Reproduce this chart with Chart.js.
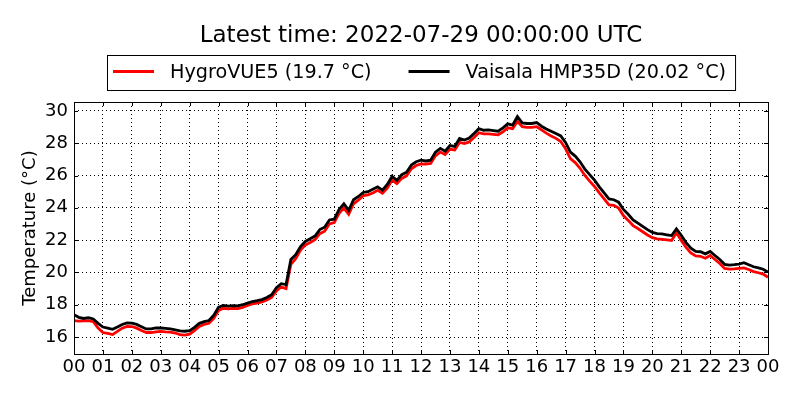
<!doctype html>
<html lang="en">
<head>
<meta charset="utf-8">
<title>Temperature, last 24 h</title>
<script src="https://cdn.jsdelivr.net/npm/chart.js@4.4.1/dist/chart.umd.min.js"></script>
<style>
  html, body { margin: 0; padding: 0; background: #fff; }
  canvas { display: block; }
</style>
</head>
<body>
<canvas id="temps" width="800" height="400"></canvas>
<script>
// chart text
const titleText = 'Latest time: 2022-07-29 00:00:00 UTC';
const yTitle = 'Temperature (°C)';
const seriesNames = ['HygroVUE5 (19.7 °C)', 'Vaisala HMP35D (20.02 °C)'];
const seriesColors = ['#ff0000', '#000000'];

// axis ticks
const hourLabels = ['00','01','02','03','04','05','06','07','08','09','10','11',
                    '12','13','14','15','16','17','18','19','20','21','22','23','00'];
const yTicks = [16, 18, 20, 22, 24, 26, 28, 30];

// one reading every 10 minutes, 00:00 to 24:00
const stepMinutes = 10;

const hygroVue = [
  17.02,16.98,17.00,17.02,16.95,16.55,16.28,16.22,16.15,16.35,16.55,16.66,
  16.65,16.55,16.40,16.28,16.28,16.32,16.35,16.32,16.30,16.25,16.15,16.12,
  16.18,16.40,16.66,16.78,16.85,17.15,17.65,17.78,17.75,17.78,17.76,17.84,
  17.95,18.05,18.10,18.18,18.30,18.45,18.85,19.10,19.00,20.50,20.85,21.38,
  21.70,21.85,22.02,22.40,22.55,23.00,23.08,23.65,24.00,23.60,24.25,24.48,
  24.75,24.80,24.92,25.08,24.90,25.22,25.72,25.50,25.82,25.98,26.42,26.62,
  26.72,26.70,26.75,27.22,27.45,27.30,27.62,27.58,28.05,27.98,28.08,28.35,
  28.65,28.58,28.58,28.55,28.52,28.70,28.95,28.90,29.35,29.02,28.98,28.98,
  29.02,28.82,28.62,28.45,28.30,28.10,27.65,27.05,26.80,26.45,26.00,25.65,
  25.32,24.92,24.55,24.18,24.15,23.98,23.52,23.22,22.90,22.72,22.52,22.32,
  22.15,22.08,22.05,22.02,21.98,22.45,21.98,21.55,21.20,21.02,21.00,20.88,
  21.05,20.80,20.55,20.25,20.20,20.22,20.25,20.28,20.18,20.05,19.98,19.90,
  19.70
];

const vaisala = [
  17.38,17.22,17.15,17.20,17.12,16.85,16.62,16.55,16.48,16.62,16.78,16.88,
  16.86,16.78,16.64,16.50,16.50,16.56,16.56,16.53,16.50,16.45,16.38,16.36,
  16.40,16.60,16.85,16.95,17.02,17.35,17.85,17.96,17.92,17.95,17.93,18.00,
  18.10,18.20,18.25,18.32,18.45,18.62,19.05,19.30,19.25,20.80,21.10,21.60,
  21.92,22.08,22.25,22.65,22.80,23.25,23.30,23.90,24.25,23.85,24.50,24.70,
  24.95,25.00,25.15,25.30,25.10,25.45,25.95,25.70,26.05,26.20,26.65,26.85,
  26.95,26.90,26.95,27.45,27.68,27.50,27.85,27.80,28.30,28.20,28.32,28.60,
  28.90,28.80,28.82,28.78,28.74,28.95,29.20,29.12,29.65,29.26,29.22,29.22,
  29.28,29.05,28.88,28.74,28.60,28.45,28.05,27.45,27.20,26.85,26.40,26.05,
  25.72,25.30,24.92,24.55,24.50,24.35,23.90,23.60,23.25,23.05,22.85,22.65,
  22.48,22.40,22.38,22.33,22.28,22.70,22.30,21.85,21.50,21.30,21.28,21.15,
  21.30,21.05,20.80,20.50,20.45,20.48,20.52,20.60,20.48,20.35,20.28,20.20,
  20.02
];

const FONT = '"DejaVu Sans", "Liberation Sans", sans-serif';

function toPoints(values) {
  return values.map((v, i) => ({ x: i * stepMinutes / 60, y: v }));
}

// title, boxed legend, axes frame and inward tick marks (matplotlib look)
const decorations = {
  id: 'decorations',
  beforeDraw(chart) {
    const ctx = chart.ctx;
    ctx.save();
    ctx.fillStyle = '#fff';
    ctx.fillRect(0, 0, chart.width, chart.height);
    ctx.restore();
  },
  afterDraw(chart) {
    const ctx = chart.ctx;
    const a = chart.chartArea;
    const xs = chart.scales.x, ys = chart.scales.y;
    const mid = (a.left + a.right) / 2;
    ctx.save();

    // frame
    ctx.strokeStyle = '#000';
    ctx.lineWidth = 1;
    ctx.strokeRect(Math.round(a.left) + 0.5, Math.round(a.top) + 0.5,
                   Math.round(a.right - a.left), Math.round(a.bottom - a.top));

    // inward ticks
    ctx.beginPath();
    for (let h = 0; h < hourLabels.length; h++) {
      const px = Math.round(xs.getPixelForValue(h)) + 0.5;
      ctx.moveTo(px, a.bottom); ctx.lineTo(px, a.bottom - 4);
      ctx.moveTo(px, a.top); ctx.lineTo(px, a.top + 4);
    }
    yTicks.forEach(v => {
      const py = Math.round(ys.getPixelForValue(v)) + 0.5;
      ctx.moveTo(a.left, py); ctx.lineTo(a.left + 4, py);
      ctx.moveTo(a.right, py); ctx.lineTo(a.right - 4, py);
    });
    ctx.stroke();

    // title
    ctx.fillStyle = '#000';
    ctx.font = '23px ' + FONT;
    ctx.textAlign = 'center';
    ctx.textBaseline = 'alphabetic';
    ctx.fillText(titleText, mid, 42);

    // legend
    ctx.font = '19.2px ' + FONT;
    ctx.textAlign = 'left';
    const lineLen = 41, afterLine = 16, gap = 37, padL = 6, padR = 9;
    const widths = seriesNames.map(s => ctx.measureText(s).width);
    let total = padL + padR;
    widths.forEach((w, i) => { total += lineLen + afterLine + w + (i ? gap : 0); });
    const bx = Math.round(mid - total / 2);
    ctx.fillStyle = '#fff';
    ctx.fillRect(bx + 0.5, 55.5, total, 35);
    ctx.strokeStyle = '#000';
    ctx.strokeRect(bx + 0.5, 55.5, total, 35);
    let x = bx + padL;
    seriesNames.forEach((s, i) => {
      ctx.strokeStyle = seriesColors[i];
      ctx.lineWidth = 3;
      ctx.beginPath();
      ctx.moveTo(x, 71.5); ctx.lineTo(x + lineLen, 71.5);
      ctx.stroke();
      x += lineLen + afterLine;
      ctx.fillStyle = '#000';
      ctx.fillText(s, x, 78);
      x += widths[i] + gap;
    });

    ctx.restore();
  }
};

new Chart(document.getElementById('temps'), {
  type: 'line',
  data: {
    datasets: [
      { label: seriesNames[0], data: toPoints(hygroVue), borderColor: seriesColors[0],
        borderWidth: 2.8, pointRadius: 0, tension: 0, order: 1 },
      { label: seriesNames[1], data: toPoints(vaisala), borderColor: seriesColors[1],
        borderWidth: 2.8, pointRadius: 0, tension: 0, order: 0 }
    ]
  },
  options: {
    responsive: false,
    animation: false,
    devicePixelRatio: 1,
    layout: { padding: { left: 0, right: 32, top: 102, bottom: 0 } },
    plugins: {
      legend: { display: false },
      title: { display: false },
      tooltip: { enabled: false }
    },
    scales: {
      x: {
        type: 'linear', min: 0, max: 24,
        afterBuildTicks: s => { s.ticks = hourLabels.map((_, i) => ({ value: i })); },
        afterFit: s => { s.height = 46; },
        ticks: {
          autoSkip: false, maxRotation: 0, padding: 3, color: '#000',
          font: { family: FONT, size: 18 },
          callback: v => hourLabels[v]
        },
        grid: { color: '#000', lineWidth: 1, drawTicks: false },
        border: { display: false, dash: [1, 3] }
      },
      y: {
        min: 14.95, max: 30.55,
        afterBuildTicks: s => { s.ticks = yTicks.map(v => ({ value: v })); },
        afterFit: s => { s.width = 74; },
        ticks: {
          padding: 6, color: '#000',
          font: { family: FONT, size: 18 }
        },
        title: {
          display: true, text: yTitle, color: '#000',
          font: { family: FONT, size: 18 },
          padding: { top: 20, bottom: 0 }
        },
        grid: { color: '#000', lineWidth: 1, drawTicks: false },
        border: { display: false, dash: [1, 3] }
      }
    }
  },
  plugins: [decorations]
});
</script>
</body>
</html>
